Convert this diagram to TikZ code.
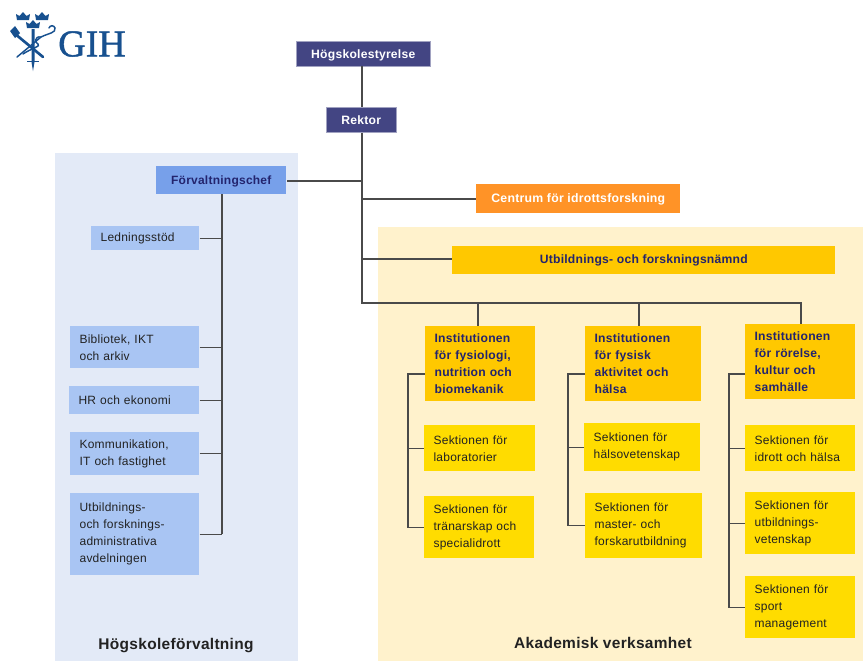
\documentclass[tikz,border=0pt]{standalone}
\usepackage{fontspec}
\setmainfont{Liberation Sans}[LetterSpace=2]
\newfontfamily\logofont{Liberation Serif}[FakeBold=1.2]
\definecolor{navybox}{HTML}{434583}
\definecolor{navytext}{HTML}{23246E}
\definecolor{chefblue}{HTML}{77A0EA}
\definecolor{stabblue}{HTML}{A9C5F3}
\definecolor{panelblue}{HTML}{E3EAF7}
\definecolor{panelyellow}{HTML}{FFF2CC}
\definecolor{centrumorange}{HTML}{FF9327}
\definecolor{instgold}{HTML}{FFC800}
\definecolor{sekyellow}{HTML}{FFDC00}
\definecolor{textdark}{HTML}{222222}
\definecolor{linegrey}{HTML}{4A4A4A}
\definecolor{logoblue}{HTML}{17508F}
\tikzset{
  box/.style={anchor=north west, inner sep=0pt, align=left, font=\fontsize{9}{12.75}\selectfont},
  boss/.style={box, fill=navybox, draw=navybox!50!white, line width=.4pt, text=white, align=center, text height=7.5pt, text depth=1pt, font=\fontsize{9.1}{12.75}\selectfont\bfseries},
  chef/.style={box, fill=chefblue, text=navytext, align=center, text height=7.5pt, text depth=1pt, font=\fontsize{9}{12.75}\selectfont\bfseries},
  stab/.style={box, fill=stabblue, text=textdark, inner xsep=7pt},
  centrum/.style={box, fill=centrumorange, text=white, align=center, text height=6.5pt, text depth=1.5pt, font=\fontsize{9.2}{12.75}\selectfont\bfseries},
  inst/.style={box, fill=instgold, text=navytext, inner xsep=7pt, font=\fontsize{9.1}{12.75}\selectfont\bfseries},
  sek/.style={box, fill=sekyellow, text=textdark, inner xsep=7pt},
  panel/.style={anchor=north west, inner sep=0pt},
  paneltitle/.style={text=textdark, inner sep=0pt, font=\fontsize{11.6}{13}\selectfont\bfseries},
  conn/.style={draw=linegrey, line width=.9pt},
  logoline/.style={draw=logoblue, line width=1.1pt, line cap=round},
  sz/.style n args={2}{minimum width=#1*.75pt, minimum height=#2*.75pt, text width=#1*.75pt-14pt},
  crown/.pic={
    \fill[logoblue] (-6,4) -- (-7,-2) -- (-3.5,0) -- (0,-4) -- (3.5,0) -- (7,-2) -- (6,4) -- cycle;
  }
}
\begin{document}
\begin{tikzpicture}[x=.75pt,y=-.75pt]
  \useasboundingbox (0,0) rectangle (863,661);

  % Background panels
  \node[panel, fill=panelblue, minimum width=182.25pt, minimum height=381pt]  (adm) at (55,153) {};
  \node[panel, fill=panelyellow, minimum width=363.75pt, minimum height=325.5pt] (aka) at (378,227) {};
  \node[paneltitle] (admtitle) at (176,646) {Högskoleförvaltning};
  \node[paneltitle] (akatitle) at (603,643) {Akademisk verksamhet};

  % Top of the organisation
  \node[boss, minimum width=100.5pt, minimum height=18.75pt] (styrelse) at (296,41) {Högskolestyrelse};
  \node[boss, minimum width=52.5pt, minimum height=18.75pt]  (rektor) at (326,107) {Rektor};
  \node[chef, minimum width=97.5pt, minimum height=21pt]     (forv) at (156,166) {Förvaltningschef};
  \node[centrum, minimum width=153pt, minimum height=21.75pt] (centrum) at (476,184) {Centrum för idrottsforskning};
  \node[inst, align=center, inner xsep=0pt, text height=6.5pt, text depth=1.5pt, minimum width=287.25pt, minimum height=21pt] (namnd) at (452,246) {Utbildnings- och forskningsnämnd};

  % Administration
  \node[stab, sz={108}{24}] (led) at (91,226) {Ledningsstöd};
  \node[stab, sz={129}{42}] (bib) at (70,326) {Bibliotek, IKT\\och arkiv};
  \node[stab, sz={130}{28}] (hr)  at (69,386) {HR och ekonomi};
  \node[stab, sz={129}{43}] (kom) at (70,432) {Kommunikation,\\IT och fastighet};
  \node[stab, sz={129}{82}] (uta) at (70,493) {Utbildnings-\\och forsknings-\\administrativa\\avdelningen};

  % Institutions
  \node[inst, sz={110}{75}] (inst1) at (425,326) {Institutionen\\för fysiologi,\\nutrition och\\biomekanik};
  \node[inst, sz={116}{75}] (inst2) at (585,326) {Institutionen\\för fysisk\\aktivitet och\\hälsa};
  \node[inst, sz={110}{75}] (inst3) at (745,324) {Institutionen\\för rörelse,\\kultur och\\samhälle};

  % Sections
  \node[sek, sz={111}{46}] (sek1a) at (424,425) {Sektionen för\\laboratorier};
  \node[sek, sz={110}{62}] (sek1b) at (424,496) {Sektionen för\\tränarskap och\\specialidrott};
  \node[sek, sz={116}{48}] (sek2a) at (584,423) {Sektionen för\\hälsovetenskap};
  \node[sek, sz={117}{65}] (sek2b) at (585,493) {Sektionen för\\master- och\\forskarutbildning};
  \node[sek, sz={110}{46}] (sek3a) at (745,425) {Sektionen för\\idrott och hälsa};
  \node[sek, sz={110}{62}] (sek3b) at (745,492) {Sektionen för\\utbildnings-\\vetenskap};
  \node[sek, sz={110}{62}] (sek3c) at (745,576) {Sektionen för\\sport\\management};

  % Connector junctions
  \coordinate (top)   at (362,66);
  \coordinate (bar)   at (362,303);
  \coordinate (drop1) at (478,303);
  \coordinate (drop2) at (639,303);
  \coordinate (drop3) at (801,303);
  \coordinate (forvj) at (362,181);
  \coordinate (centj) at (362,199);
  \coordinate (namj)  at (362,259);
  \coordinate (stabtop) at (222,194);
  \coordinate (stabend) at (222,534);
  \coordinate (tree1) at (408,374);
  \coordinate (tree2) at (568,374);
  \coordinate (tree3) at (729,374);

  % Connect the nodes
  \draw[conn] (top) -- (top |- rektor.north);
  \draw[conn] (top |- rektor.south) -- (bar) -- (drop3) -- (drop3 |- inst3.north);
  \draw[conn] (drop1) -- (drop1 |- inst1.north);
  \draw[conn] (drop2) -- (drop2 |- inst2.north);
  \draw[conn] (forvj) -- (forvj -| forv.east);
  \draw[conn] (centj) -- (centj -| centrum.west);
  \draw[conn] (namj) -- (namj -| namnd.west);
  \draw[conn] (stabtop) -- (stabend);
  \foreach \n in {led,bib,hr,kom,uta}
    \draw[conn] (\n.east) -- (\n.east -| stabtop);
  \draw[conn] (tree1 -| inst1.west) -- (tree1) |- (sek1b.west);
  \draw[conn] (sek1a.west) -- (sek1a.west -| tree1);
  \draw[conn] (tree2 -| inst2.west) -- (tree2) |- (sek2b.west);
  \draw[conn] (sek2a.west) -- (sek2a.west -| tree2);
  \draw[conn] (tree3 -| inst3.west) -- (tree3) |- (sek3c.west);
  \draw[conn] (sek3a.west) -- (sek3a.west -| tree3);
  \draw[conn] (sek3b.west) -- (sek3b.west -| tree3);

  % Logo
  \node[anchor=west, inner sep=0pt, text=logoblue, font=\logofont\fontsize{28.5}{29}\selectfont] (gih) at (58,44) {GIH};
  \pic at (23,16) {crown};
  \pic at (42,16) {crown};
  \pic at (33,24) {crown};
  \fill[logoblue] (31.5,29) -- (34.5,29) -- (34.5,62) -- (33,71) -- (31.5,62) -- cycle;
  \fill[logoblue] (27,60.5) rectangle (39,62);
  \draw[logoline, line width=2pt] (14,33) -- (43,57);
  \fill[logoblue] (15,26) -- (20,33) -- (15,38) -- (10,31) -- cycle;
  \draw[logoline] (17,57) -- (41,37) .. controls (49,33) and (56,33) .. (55,28) .. controls (54,25) and (50,25) .. (49,28);
  \draw[logoline] (41,37) .. controls (34,36) and (35,43) .. (38,44) .. controls (42,46) and (30,49) .. (23,54);
\end{tikzpicture}
\end{document}
